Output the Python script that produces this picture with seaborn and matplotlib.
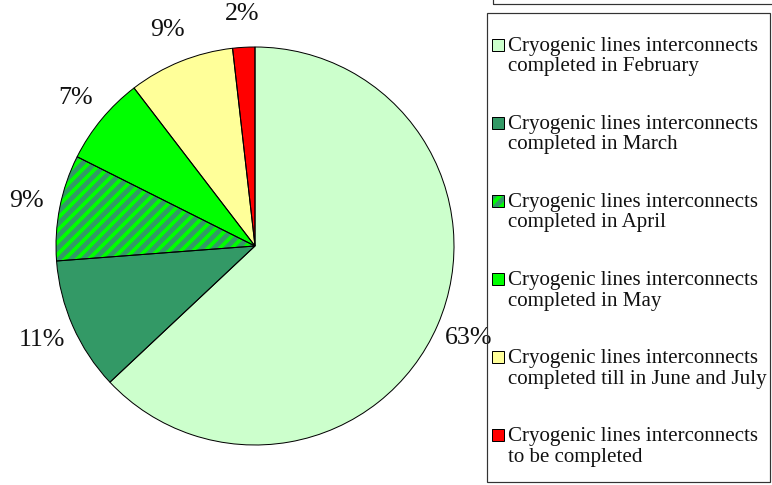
import matplotlib
matplotlib.use('Agg')
import matplotlib.pyplot as plt
import seaborn as sns
from matplotlib.patches import Patch, Rectangle
from matplotlib.legend_handler import HandlerBase

# slice shares (percent), clockwise from 12 o'clock
shares = [63.0, 10.8, 8.6, 7.2, 8.6, 1.8]
labels = [
    'Cryogenic lines interconnects\ncompleted in February',
    'Cryogenic lines interconnects\ncompleted in March',
    'Cryogenic lines interconnects\ncompleted in April',
    'Cryogenic lines interconnects\ncompleted in May',
    'Cryogenic lines interconnects\ncompleted till in June and July',
    'Cryogenic lines interconnects\nto be completed',
]
colors = ['#CCFFCC', '#339966', '#339966', '#00FF00', '#FFFF99', '#FF0000']
hatches = [None, None, '//', None, None, None]
hatch_color = '#00FF00'

sns.set_style('white')
plt.rcParams['font.family'] = ['Liberation Serif', 'DejaVu Serif']
plt.rcParams['hatch.linewidth'] = 3.8


class SquareHandler(HandlerBase):
    # square swatch aligned with the first text line
    def create_artists(self, legend, orig_handle, xdescent, ydescent,
                       width, height, fontsize, trans):
        size = 12
        x0 = -xdescent
        y0 = -ydescent + 0.62 * fontsize
        h = orig_handle.get_hatch()
        fill = Rectangle((x0, y0), size, size, facecolor=orig_handle.get_facecolor(),
                         edgecolor=hatch_color if h else 'none', hatch=h, lw=0,
                         transform=trans)
        edge = Rectangle((x0, y0), size, size, fill=False, edgecolor='black',
                         lw=1.0, transform=trans)
        return [fill, edge]


# dpi 72 so one point is one pixel
W, H = 772, 485
fig = plt.figure(figsize=(W / 72, H / 72), dpi=72)
cx, cy, r = 255, 246, 199
ax = fig.add_axes([(cx - r) / W, (H - cy - r) / H, 2 * r / W, 2 * r / H])

wedges, texts, autotexts = ax.pie(
    shares, colors=colors, startangle=90, counterclock=False,
    autopct='%1.0f%%', pctdistance=1.17,
    wedgeprops=dict(linewidth=0),
    textprops=dict(fontsize=26, color='#111111'),
)
for w, h in zip(wedges, hatches):
    if h:
        w.set_hatch(h)
        w.set_edgecolor(hatch_color)

# black outlines on top
ax.pie(shares, startangle=90, counterclock=False,
       wedgeprops=dict(fill=False, edgecolor='black', linewidth=1.0))
ax.set_xlim(-1, 1)
ax.set_ylim(-1, 1)
ax.set_aspect('equal')

handles = [Patch(facecolor=c, hatch=h) for c, h in zip(colors, hatches)]
leg = fig.legend(handles, labels, loc='upper left',
                 bbox_to_anchor=(492 / W, 1 - 37 / H),
                 frameon=False, fontsize=21,
                 handlelength=12 / 21, handletextpad=0.2,
                 labelspacing=1.84, borderpad=0, borderaxespad=0,
                 handler_map={Patch: SquareHandler()})
for t in leg.get_texts():
    t.set_linespacing(1.1)
    t.set_color('#111111')

# legend frame and the clipped box above it
fig.patches.append(Rectangle((487 / W, 1 - 482 / H), (770 - 487) / W, (482 - 13) / H,
                             transform=fig.transFigure, fill=False,
                             edgecolor='#333333', linewidth=1.2))
fig.patches.append(Rectangle((493 / W, 1 - 4 / H), 0.5, 0.2,
                             transform=fig.transFigure, fill=False,
                             edgecolor='#333333', linewidth=1.2))

fig.savefig('out.png', dpi=72)
